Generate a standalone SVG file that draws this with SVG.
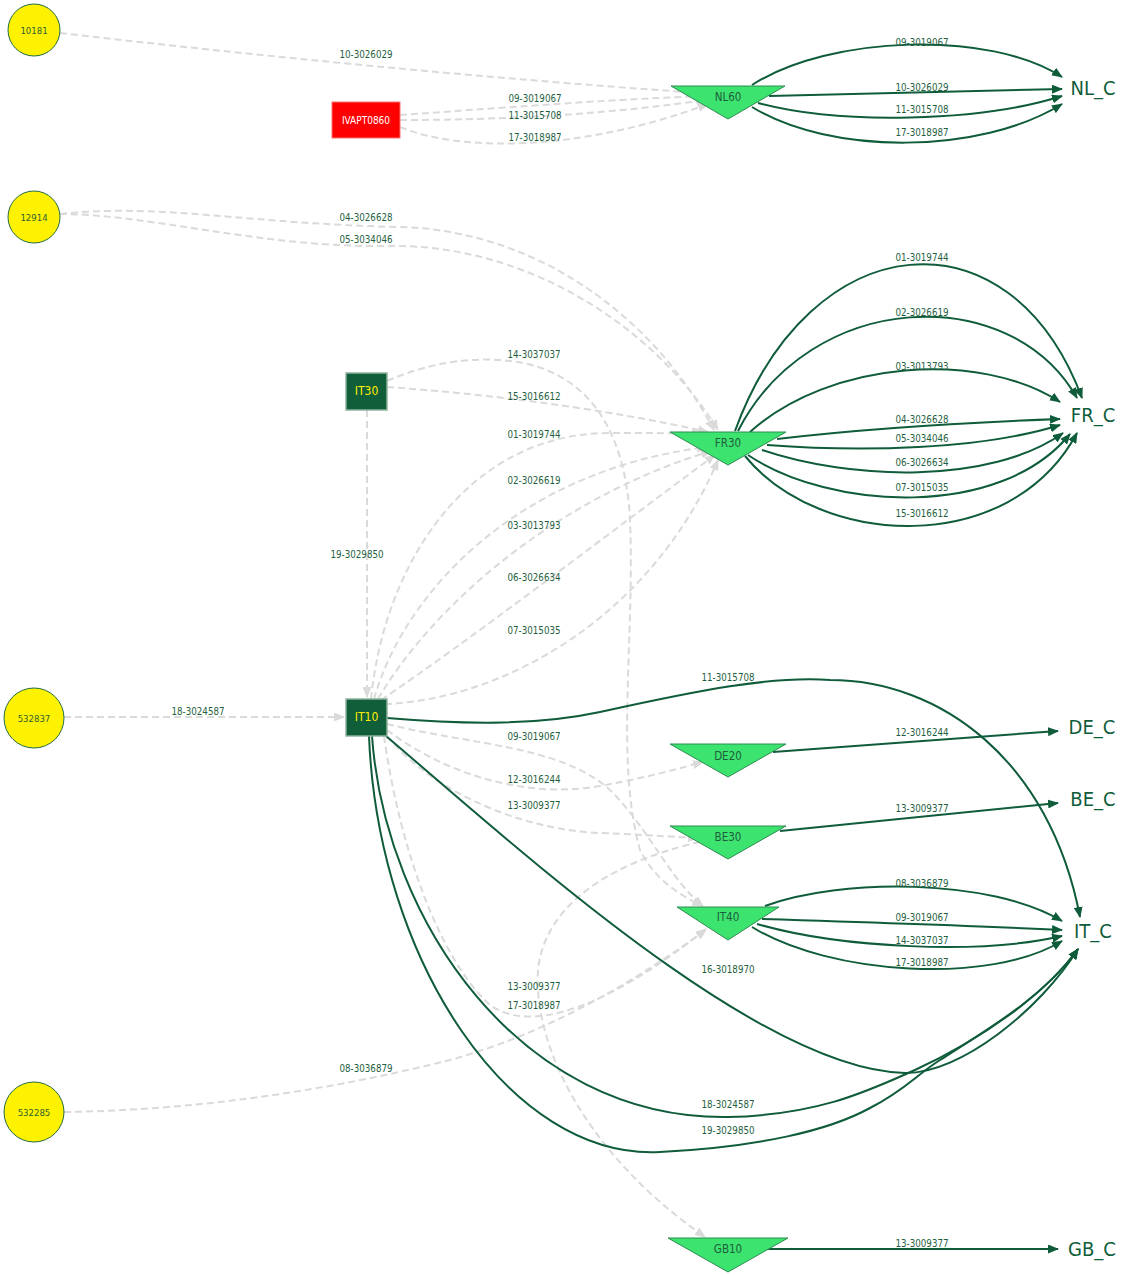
<svg xmlns="http://www.w3.org/2000/svg" width="1132" height="1276" viewBox="0 0 1132 1276">
<defs>
<style>
text{font-family:"DejaVu Sans Condensed","DejaVu Sans",sans-serif;font-stretch:condensed;text-anchor:middle;dominant-baseline:central}
.dash{fill:none;stroke:#dadada;stroke-width:2;stroke-dasharray:7 4;marker-end:url(#ag)}
.sol{fill:none;stroke:#0f5c3a;stroke-width:2;marker-end:url(#ad)}
.lbl{font-size:9.7px;fill:#1f5f3f}
.circ{fill:#fff200;stroke:#236b45;stroke-width:1}
.ctext{font-size:9.5px;fill:#2e5e36}
.tri{fill:#3de36f;stroke:#2a8c50;stroke-width:1}
.ttext{font-size:11.5px;fill:#1e5e3e}
.box{fill:#115e3b;stroke:#8fb39e;stroke-width:1.5}
.btext{font-size:12px;fill:#ffee00}
.cty{font-size:20px;fill:#0f5c3a}
</style>
<marker id="ad" markerUnits="userSpaceOnUse" markerWidth="11" markerHeight="9" refX="10" refY="4.5" orient="auto"><path d="M0,0 L11,4.5 L0,9 z" fill="#0f5c3a"/></marker>
<marker id="ag" markerUnits="userSpaceOnUse" markerWidth="11" markerHeight="9" refX="10" refY="4.5" orient="auto"><path d="M0,0 L11,4.5 L0,9 z" fill="#dadada"/></marker>
</defs>
<g id="connectors">
<g id="dashed-edges">
<path class="dash" d="M60,33 C 250,55 480,78 700,93"/>
<path class="dash" d="M400,115 C 500,108 600,100 704,96"/>
<path class="dash" d="M400,120 C 500,120 600,115 706,100"/>
<path class="dash" d="M400,127 C 460,152 580,152 708,104"/>
<path class="dash" d="M60,214 C 160,203 250,224 400,227 C 530,230 650,310 714,430"/>
<path class="dash" d="M60,214 C 150,214 260,248 390,246 C 520,244 650,320 718,430"/>
<path class="dash" d="M387,381 C 430,362 470,358 500,360 C 580,365 625,420 630,520 C 635,640 615,760 640,850 C 655,880 680,895 702,906"/>
<path class="dash" d="M387,387 C 500,395 610,410 708,432"/>
<path class="dash" d="M367,410 L367,697"/>
<path class="dash" d="M371,699 C 385,560 470,433 610,433 C 650,433 680,433 702,434"/>
<path class="dash" d="M374,699 C 405,590 520,470 707,447"/>
<path class="dash" d="M378,699 C 430,610 550,500 711,451"/>
<path class="dash" d="M381,700 C 470,640 600,540 715,455"/>
<path class="dash" d="M385,704 C 500,700 650,620 718,460"/>
<path class="dash" d="M64,717 L344,717"/>
<path class="dash" d="M387,724 C 470,745 560,745 610,790 C 650,830 670,880 703,906"/>
<path class="dash" d="M387,730 C 440,770 520,800 600,786 C 650,777 680,768 703,762"/>
<path class="dash" d="M387,736 C 430,790 520,830 600,833 C 650,835 675,837 698,838"/>
<path class="dash" d="M700,842 C 620,860 545,900 538,970 C 533,1040 580,1150 705,1237"/>
<path class="dash" d="M64,1112 C 200,1110 330,1090 450,1060 C 560,1030 650,970 706,930"/>
<path class="dash" d="M384,736 C 400,850 440,960 490,1005 C 540,1040 630,990 706,929"/>
</g>
<g id="solid-edges">
<path class="sol" d="M752,85 C 830,35 990,30 1062,77"/>
<path class="sol" d="M769,96 L1062,89"/>
<path class="sol" d="M758,103 C 840,125 980,122 1062,96"/>
<path class="sol" d="M752,107 C 830,155 980,155 1062,104"/>
<path class="sol" d="M735,431 C 810,225 1010,205 1082,398"/>
<path class="sol" d="M738,431 C 810,290 1010,280 1077,398"/>
<path class="sol" d="M750,432 C 830,360 980,350 1060,402"/>
<path class="sol" d="M777,439 C 870,428 980,422 1060,419"/>
<path class="sol" d="M767,445 C 860,452 980,450 1060,425"/>
<path class="sol" d="M762,450 C 850,480 990,485 1063,433"/>
<path class="sol" d="M748,455 C 830,510 1000,520 1070,434"/>
<path class="sol" d="M745,456 C 820,548 1010,558 1077,433"/>
<path class="sol" d="M773,752 L1058,731"/>
<path class="sol" d="M780,831 L1058,803"/>
<path class="sol" d="M765,1249 L1058,1249"/>
<path class="sol" d="M765,906 C 840,878 990,878 1062,921"/>
<path class="sol" d="M762,919 C 860,922 980,926 1062,930"/>
<path class="sol" d="M757,924 C 840,948 980,955 1062,936"/>
<path class="sol" d="M752,927 C 830,975 990,985 1062,941"/>
<path class="sol" d="M387,718 C 470,725 540,725 600,712 C 700,690 770,676 830,680 C 940,680 1050,760 1080,917"/>
<path class="sol" d="M386,736 C 520,850 760,1070 905,1073 C 960,1074 1040,1010 1078,949"/>
<path class="sol" d="M372,736 C 385,920 520,1120 728,1117 C 820,1115 870,1090 915,1070 C 980,1040 1045,995 1078,949"/>
<path class="sol" d="M369,736 C 378,960 510,1160 660,1152 C 760,1147 830,1130 870,1108 C 905,1090 915,1076 940,1060 C 995,1025 1045,995 1078,949"/>
</g>
<g id="edge-labels" class="lbl">
<text x="366" y="54">10-3026029</text>
<text x="535" y="98">09-3019067</text>
<text x="535" y="115">11-3015708</text>
<text x="535" y="137">17-3018987</text>
<text x="922" y="42">09-3019067</text>
<text x="922" y="87">10-3026029</text>
<text x="922" y="109">11-3015708</text>
<text x="922" y="132">17-3018987</text>
<text x="366" y="217">04-3026628</text>
<text x="366" y="239">05-3034046</text>
<text x="534" y="354">14-3037037</text>
<text x="534" y="396">15-3016612</text>
<text x="534" y="434">01-3019744</text>
<text x="534" y="480">02-3026619</text>
<text x="534" y="525">03-3013793</text>
<text x="357" y="554">19-3029850</text>
<text x="534" y="577">06-3026634</text>
<text x="534" y="630">07-3015035</text>
<text x="922" y="257">01-3019744</text>
<text x="922" y="312">02-3026619</text>
<text x="922" y="366">03-3013793</text>
<text x="922" y="419">04-3026628</text>
<text x="922" y="438">05-3034046</text>
<text x="922" y="462">06-3026634</text>
<text x="922" y="487">07-3015035</text>
<text x="922" y="513">15-3016612</text>
<text x="728" y="677">11-3015708</text>
<text x="198" y="711">18-3024587</text>
<text x="534" y="736">09-3019067</text>
<text x="534" y="779">12-3016244</text>
<text x="534" y="805">13-3009377</text>
<text x="922" y="732">12-3016244</text>
<text x="922" y="808">13-3009377</text>
<text x="922" y="883">08-3036879</text>
<text x="922" y="917">09-3019067</text>
<text x="922" y="940">14-3037037</text>
<text x="922" y="962">17-3018987</text>
<text x="728" y="969">16-3018970</text>
<text x="534" y="986">13-3009377</text>
<text x="534" y="1005">17-3018987</text>
<text x="366" y="1068">08-3036879</text>
<text x="728" y="1104">18-3024587</text>
<text x="728" y="1130">19-3029850</text>
<text x="922" y="1243">13-3009377</text>
</g>
</g>
<g id="node-10181"><circle class="circ" cx="34" cy="30" r="26"/><text class="ctext" x="34" y="30">10181</text></g>
<g id="node-12914"><circle class="circ" cx="34" cy="217" r="26"/><text class="ctext" x="34" y="217">12914</text></g>
<g id="node-532837"><circle class="circ" cx="34" cy="718" r="30"/><text class="ctext" x="34" y="718">532837</text></g>
<g id="node-532285"><circle class="circ" cx="34" cy="1112" r="30"/><text class="ctext" x="34" y="1112">532285</text></g>
<g id="node-IVAPT0860"><rect x="332" y="102" width="68" height="36" fill="#ff0000" stroke="#ff7070" stroke-width="1"/><text x="366" y="120" style="font-size:10px;fill:#ffffff">IVAPT0860</text></g>
<g id="node-IT30"><rect class="box" x="346" y="373" width="41" height="37"/><text class="btext" x="366.5" y="391">IT30</text></g>
<g id="node-IT10"><rect class="box" x="346" y="699" width="41" height="37"/><text class="btext" x="366.5" y="717">IT10</text></g>
<g id="node-NL60"><polygon class="tri" points="671,86 785,86 728,119"/><text class="ttext" x="728" y="97">NL60</text></g>
<g id="node-FR30"><polygon class="tri" points="670,432 786,432 728,465"/><text class="ttext" x="728" y="443">FR30</text></g>
<g id="node-DE20"><polygon class="tri" points="670,744 786,744 728,777"/><text class="ttext" x="728" y="756">DE20</text></g>
<g id="node-BE30"><polygon class="tri" points="670,826 786,826 728,859"/><text class="ttext" x="728" y="837">BE30</text></g>
<g id="node-IT40"><polygon class="tri" points="677,907 779,907 728,940"/><text class="ttext" x="728" y="917">IT40</text></g>
<g id="node-GB10"><polygon class="tri" points="668,1238 788,1238 728,1272"/><text class="ttext" x="728" y="1249">GB10</text></g>
<g id="node-NL_C"><text class="cty" x="1093" y="88">NL_C</text></g>
<g id="node-FR_C"><text class="cty" x="1093" y="415">FR_C</text></g>
<g id="node-DE_C"><text class="cty" x="1092" y="727">DE_C</text></g>
<g id="node-BE_C"><text class="cty" x="1093" y="799">BE_C</text></g>
<g id="node-IT_C"><text class="cty" x="1093" y="931">IT_C</text></g>
<g id="node-GB_C"><text class="cty" x="1092" y="1249">GB_C</text></g>
</svg>
